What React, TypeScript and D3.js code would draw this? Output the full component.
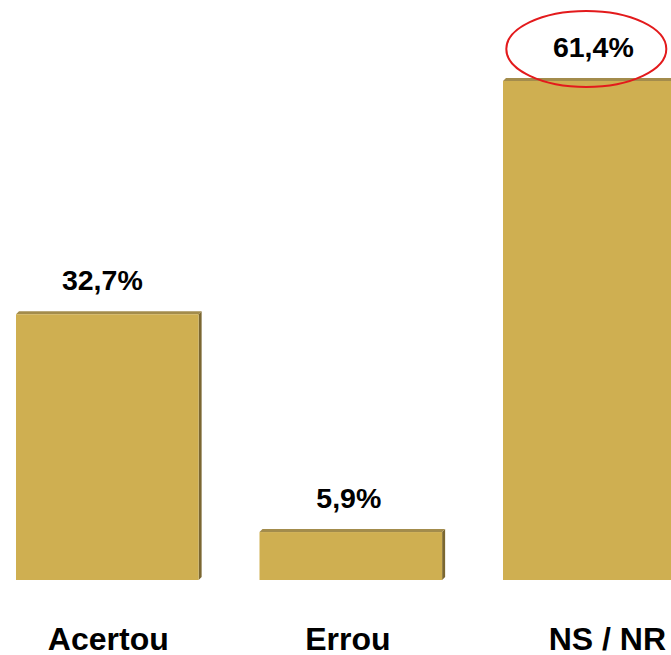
import React from "react";
import * as d3 from "d3";

const categories = ["Acertou", "Errou", "NS / NR"];
const values = [32.7, 5.9, 61.4];
const valueLabels = ["32,7%", "5,9%", "61,4%"];
const highlighted = ["NS / NR"];

const W = 671;
const H = 655;

// small label nudges (layout only)
const catNudge: Record<string, number> = { Acertou: 1, Errou: -3, "NS / NR": 13 };
const valNudge: Record<string, number> = { Acertou: -5, Errou: -2, "NS / NR": -1 };

export default function App() {
  const baseline = 580;
  const x = d3
    .scaleBand<string>()
    .domain(categories)
    .range([16, 16 + 2.75 * 243.5])
    .paddingInner(0.25)
    .paddingOuter(0);
  const y = d3.scaleLinear().domain([0, 61.4]).range([baseline, 81]);
  const bw = x.bandwidth();
  const depth = 3;
  const font = "'Liberation Sans', Arial, Helvetica, sans-serif";

  return (
    <svg
      width={W}
      height={H}
      style={{ position: "absolute", left: 0, top: 0, display: "block" }}
    >
      <rect width={W} height={H} fill="#ffffff" />
      {categories.map((c, i) => {
        const x0 = x(c)!;
        const yt = y(values[i]);
        const cx = x0 + bw / 2;
        return (
          <g key={c}>
            <polygon
              points={`${x0 + bw},${yt} ${x0 + bw + depth},${yt - depth} ${x0 + bw + depth},${baseline - depth} ${x0 + bw},${baseline}`}
              fill="#7b6731"
            />
            <polygon
              points={`${x0},${yt} ${x0 + depth},${yt - depth} ${x0 + bw + depth},${yt - depth} ${x0 + bw},${yt}`}
              fill="#a38c4c"
            />
            <rect x={x0} y={yt} width={bw} height={baseline - yt} fill="#cfaf51" />
            <text
              x={cx + valNudge[c]}
              y={yt - 24}
              textAnchor="middle"
              fontFamily={font}
              fontWeight="bold"
              fontSize={28.5}
              fill="#000"
            >
              {valueLabels[i]}
            </text>
            {highlighted.includes(c) && (
              <ellipse
                cx={cx - 8}
                cy={yt - 32}
                rx={80}
                ry={38}
                fill="none"
                stroke="#e31a1c"
                strokeWidth={2}
              />
            )}
            <text
              x={cx + catNudge[c]}
              y={650}
              textAnchor="middle"
              fontFamily={font}
              fontWeight="bold"
              fontSize={32}
              fill="#000"
            >
              {c}
            </text>
          </g>
        );
      })}
    </svg>
  );
}
